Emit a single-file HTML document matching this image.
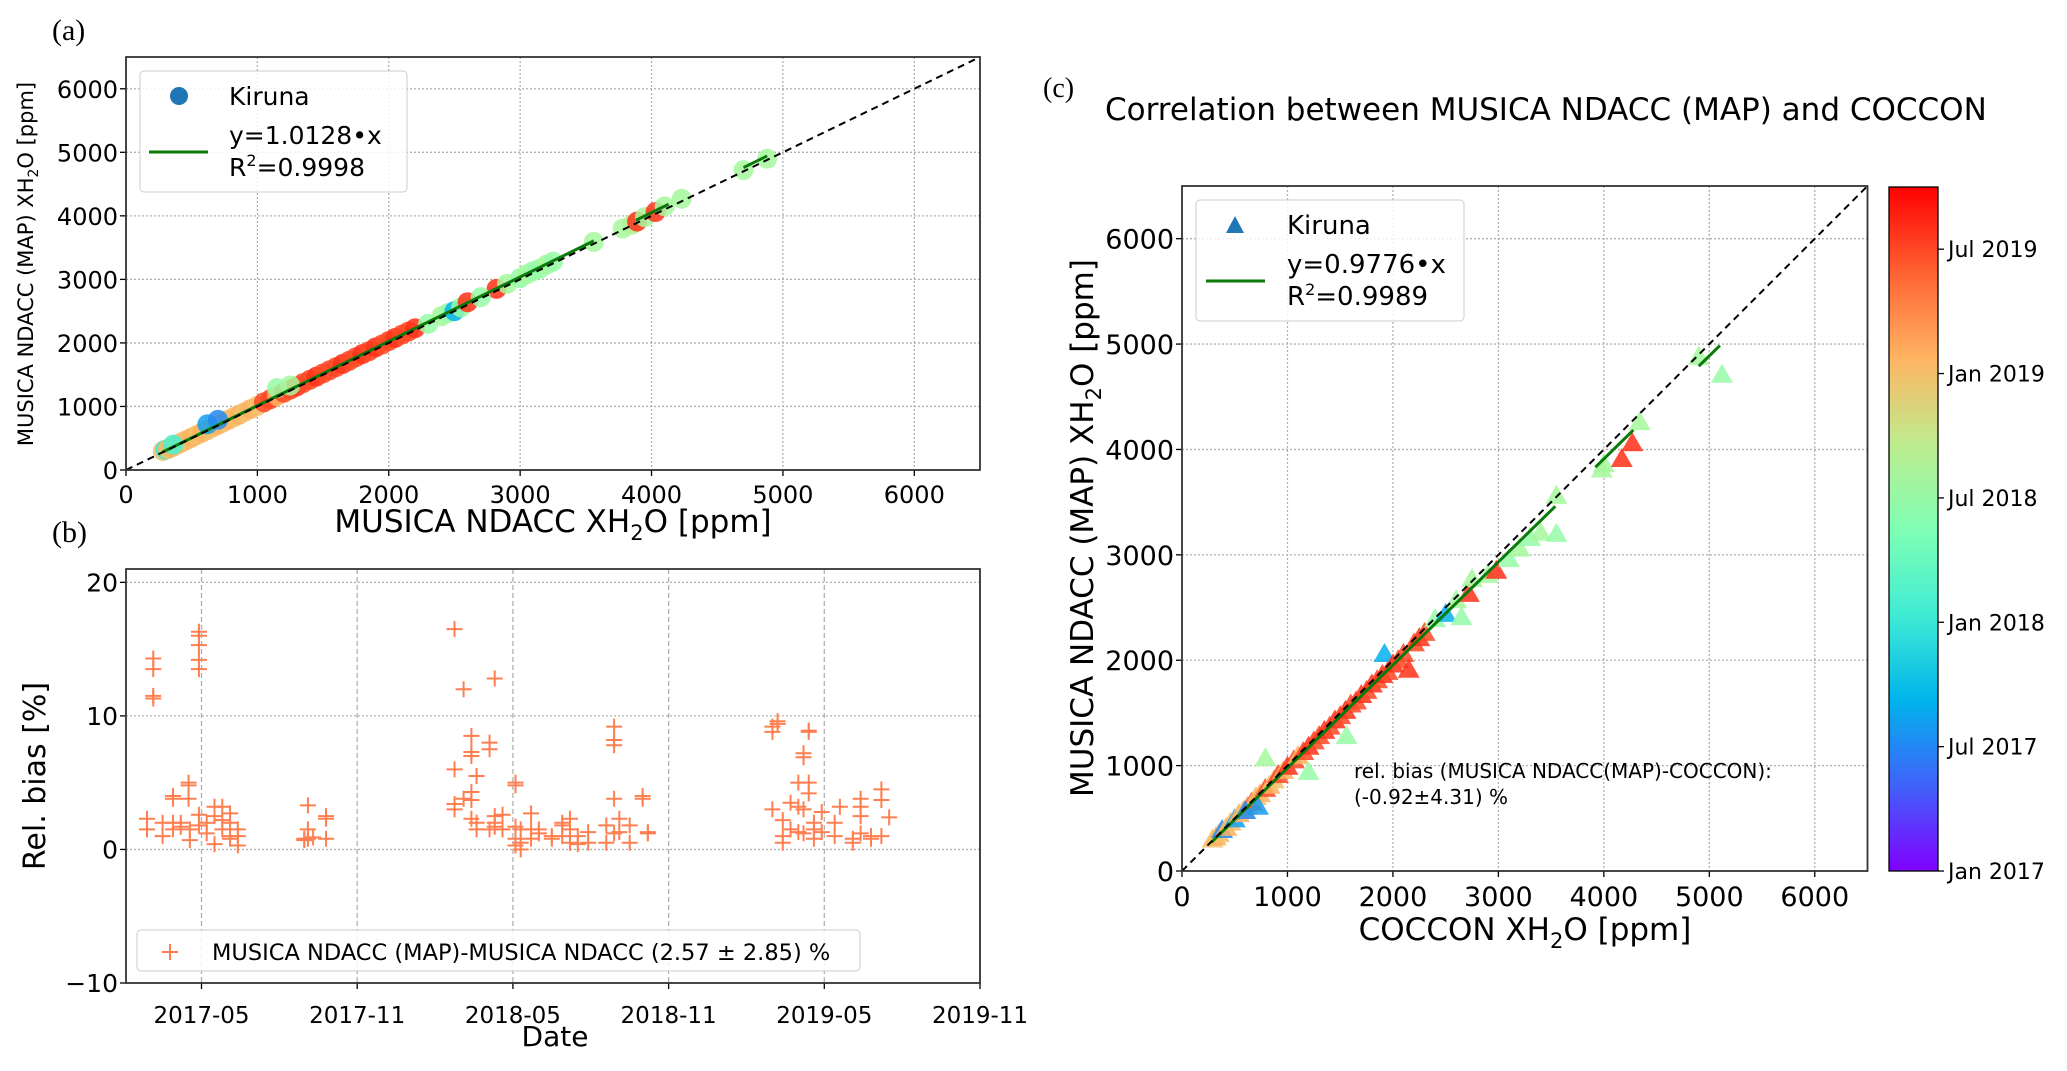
<!DOCTYPE html>
<html><head><meta charset="utf-8"><style>
body{margin:0;background:#fff;}
svg text{font-family:"DejaVu Sans","Liberation Sans",sans-serif;fill:#000;}
.serif{font-family:"Liberation Serif",serif;}
</style></head><body>
<svg id="fig" xmlns="http://www.w3.org/2000/svg" width="2067" height="1066" viewBox="0 0 2067 1066">
<defs>
<linearGradient id="rb" x1="0" y1="1" x2="0" y2="0">
<stop offset="0" stop-color="rgb(128,0,255)"/><stop offset="0.125" stop-color="rgb(64,98,250)"/><stop offset="0.25" stop-color="rgb(0,180,235)"/><stop offset="0.375" stop-color="rgb(64,236,212)"/><stop offset="0.5" stop-color="rgb(128,255,180)"/><stop offset="0.625" stop-color="rgb(191,236,142)"/><stop offset="0.75" stop-color="rgb(255,180,98)"/><stop offset="0.875" stop-color="rgb(255,98,50)"/><stop offset="1" stop-color="rgb(255,0,0)"/>
</linearGradient>
</defs>
<g id="layer"></g>
</svg>
<script>
// ---------- data ----------
const aX=[280,300,320,350,380,400,430,460,500,540,580,620,660,700,740,780,820,860,900,950,1000,1050,1100,1150,1200,1250,1300,1350,1400,1450,1500,1550,1600,1650,1700,1750,1800,1850,1900,1950,2000,2050,2100,2150,2200,620,700,360,1150,1250,2300,2400,2450,2500,2550,2600,2820,2700,2900,3000,3050,3100,3150,3200,3250,3560,3780,3850,3890,3950,4030,4100,4230,4700,4880];
const aY=[300,320,330,360,390,410,440,470,510,550,590,630,670,710,750,790,830,870,910,960,1010,1065,1115,1165,1215,1265,1315,1370,1420,1470,1520,1570,1620,1670,1720,1775,1825,1870,1930,1975,2030,2080,2130,2180,2230,720,790,400,1290,1330,2300,2420,2470,2500,2560,2640,2850,2720,2930,3020,3080,3130,3170,3230,3280,3590,3800,3860,3910,3980,4060,4150,4270,4720,4900];
const aM=[24,12,24,25,24,24,25,24,25,24,25,24,24,25,24,25,24,25,24,25,24,30,30,25,30,30,31,30,30,31,30,30,30,31,30,30,31,30,31,30,30,31,30,30,31,7,6,13,18,19,18,19,18,8,18,31,31,18,19,18,19,18,18,19,18,19,19,20,31,19,31,19,19,19,19];
const bT=[2.14,2.14,2.14,2.14,1.9,1.9,2.5,2.5,2.9,2.9,2.9,2.9,3.2,3.2,3.5,3.5,3.5,3.55,3.55,3.9,3.9,3.9,3.9,3.9,3.9,3.9,4.2,4.2,4.5,4.5,4.5,4.8,4.8,4.8,5.1,5.1,5.1,5.1,5.4,5.4,5.4,7.96,7.96,8.1,8.1,8.1,8.3,8.8,8.8,8.8,13.75,13.75,13.75,13.75,14.1,14.1,14.4,14.4,14.4,14.4,14.4,14.4,14.6,14.6,14.6,15.1,15.1,15.1,15.3,15.3,15.3,15.3,15.6,15.6,16.1,16.1,16.1,16.1,16.1,16.3,16.3,16.3,16.7,16.7,16.7,17.0,17.0,17.5,17.5,17.9,17.9,17.9,18.2,18.2,18.2,18.5,18.5,18.9,18.9,19.6,19.6,19.9,19.9,19.9,19.9,19.9,20.1,20.1,20.5,20.5,21.0,21.0,21.2,21.2,26.0,26.0,26.0,26.2,26.2,26.4,26.4,26.4,26.7,26.7,27.0,27.0,27.0,27.2,27.2,27.2,27.2,27.4,27.4,27.4,27.4,27.6,27.6,27.6,27.9,27.9,28.4,28.4,28.6,29.1,29.1,29.4,29.4,29.4,29.4,29.8,29.8,30.2,30.2,30.2,30.5];
const bV=[11.3,11.5,13.5,14.3,2.3,1.5,1.0,2.0,4.0,3.8,2.0,1.5,2.0,1.7,5.0,4.8,3.8,0.7,1.5,16.3,16.0,15.3,14.2,13.5,2.6,1.8,1.2,2.0,3.2,2.5,0.4,2.2,3.2,1.5,2.7,2.0,1.0,0.8,1.5,1.0,0.3,0.7,0.8,3.3,1.5,0.8,0.9,2.5,2.3,0.8,16.5,6.0,3.4,3.0,12.0,3.8,8.5,7.3,7.0,4.3,3.7,2.3,5.5,2.0,1.5,8.0,7.5,1.5,12.8,2.5,2.0,1.7,2.6,1.5,5.0,4.8,1.7,0.8,0.3,1.5,0.5,0.0,2.7,1.5,0.8,1.5,1.2,1.0,0.8,1.8,2.0,1.0,2.3,1.5,0.5,1.0,0.4,1.3,0.5,1.8,0.5,9.2,8.2,7.8,3.8,1.2,2.3,1.3,0.5,1.8,3.8,4.0,1.3,1.2,8.8,9.2,3.0,9.6,9.4,2.2,1.0,0.5,3.5,1.5,5.0,3.2,1.3,7.2,6.9,3.0,1.2,8.8,8.9,5.0,4.2,1.5,2.0,0.8,2.8,1.3,2.0,1.0,3.2,0.5,0.8,3.8,3.2,2.5,1.2,1.0,0.8,4.5,3.7,1.0,2.4];
const cX=[290,320,350,380,420,460,500,540,580,620,660,700,740,790,830,870,910,960,1000,1060,1100,1150,1200,1250,1300,1350,1400,1450,1500,1550,1600,1650,1700,1750,1800,1850,1900,1920,1950,2000,2050,2100,2150,2200,2250,2300,600,720,1200,790,1560,2400,2500,2600,2650,2720,2750,2900,2980,3100,3200,3300,3400,3550,3550,3980,4000,4170,4270,4340,4900,5120];
const cY=[290,310,340,380,400,450,480,530,560,600,640,690,720,770,800,850,900,940,980,1040,1080,1120,1170,1220,1270,1320,1360,1420,1460,1510,1570,1600,1660,1700,1760,1800,1850,2050,1880,1950,1990,2050,1900,2150,2200,2250,560,600,930,1060,1270,2380,2430,2560,2400,2620,2760,2800,2840,2950,3050,3150,3200,3550,3190,3800,3850,3900,4050,4250,4870,4700];
const cM=[24,25,24,6,25,24,7,25,24,25,30,24,25,30,25,24,30,25,31,30,25,30,31,30,30,31,30,31,30,31,30,30,31,30,31,30,31,8,30,31,30,30,31,30,31,30,6,7,18,19,18,18,8,19,18,31,19,19,31,18,19,18,19,19,18,19,19,31,31,19,19,18];
const cbTicks=[0,6,12,18,24,30];
const cbLabels=["Jan 2017","Jul 2017","Jan 2018","Jul 2018","Jan 2019","Jul 2019"];
const xyTicks=[0,1000,2000,3000,4000,5000,6000];
const bYTicks=[-10,0,10,20];
const bXTicks=[4,10,16,22,28,34];
const bXLabels=["2017-05","2017-11","2018-05","2018-11","2019-05","2019-11"];

// ---------- helpers ----------
const NS="http://www.w3.org/2000/svg";
const L=document.getElementById('layer');
function el(tag,at,parent){const e=document.createElementNS(NS,tag);for(const k in at)e.setAttribute(k,at[k]);(parent||L).appendChild(e);return e;}
function txt(x,y,s,size,anchor,extra){const t=el('text',Object.assign({x:x,y:y,'font-size':size,'text-anchor':anchor||'start'},extra||{}));t.textContent=s;return t;}
function rainbow(m){let v=Math.max(0,Math.min(1,m/33));const r=Math.min(1,Math.abs(2*v-0.5)),g=Math.sin(Math.PI*v),b=Math.cos(Math.PI*v/2);return `rgb(${Math.round(r*255)},${Math.round(g*255)},${Math.round(b*255)})`;}
const grid={stroke:'#b0b0b0','stroke-width':1.3,'stroke-dasharray':'2,2'};

// ---------- panel a ----------
const A={l:126,r:980,t:57,b:470,max:6500};
const ax=v=>A.l+(A.r-A.l)*v/A.max, ay=v=>A.b-(A.b-A.t)*v/A.max;
let g;
xyTicks.forEach(v=>{
 g=el('line',Object.assign({x1:ax(v),x2:ax(v),y1:A.t,y2:A.b},grid));
 g=el('line',Object.assign({x1:A.l,x2:A.r,y1:ay(v),y2:ay(v)},grid));
 g=txt(ax(v),A.b+33,String(v),24,'middle');
 g=txt(A.l-8,ay(v)+9,String(v),24,'end');
 el('line',{x1:ax(v),x2:ax(v),y1:A.b,y2:A.b+6,stroke:'#000','stroke-width':1.3});
 el('line',{x1:A.l-6,x2:A.l,y1:ay(v),y2:ay(v),stroke:'#000','stroke-width':1.3});
});
aX.forEach((x,i)=>{g=el('ellipse',{cx:ax(x),cy:ay(aY[i]),rx:10,ry:10,fill:rainbow(aM[i]),'fill-opacity':0.85});});
[[280,3560],[3880,4130],[4700,4880]].forEach(s=>{g=el('line',{x1:ax(s[0]),y1:ay(s[0]*1.0128),x2:ax(s[1]),y2:ay(s[1]*1.0128),stroke:'#0a7a0a','stroke-width':3});});
g=el('line',{x1:ax(0),y1:ay(0),x2:ax(6500),y2:ay(6500),stroke:'#000','stroke-width':2,'stroke-dasharray':'7,5'});
g=el('rect',{x:A.l,y:A.t,width:A.r-A.l,height:A.b-A.t,fill:'none',stroke:'#333','stroke-width':1.8});
g=el('rect',{x:140,y:71,width:267,height:121,rx:4,fill:'#fff','fill-opacity':0.85,stroke:'#ccc'});
el('ellipse',{cx:179,cy:96,rx:9,ry:9,fill:'#1f77b4'});
el('line',{x1:149,x2:208,y1:152,y2:152,stroke:'#0a7a0a','stroke-width':3});
txt(229,105,'Kiruna',25);txt(229,144,'y=1.0128•x',25);
g=txt(229,176,'R',25);const s1=el('tspan',{dy:-10,'font-size':16},g);s1.textContent='2';const s2=el('tspan',{dy:10},g);s2.textContent='=0.9998';
g=txt(553,532,'',31,'middle');
g.innerHTML='MUSICA NDACC XH<tspan font-size="21" dy="8">2</tspan><tspan dy="-8">O [ppm]</tspan>';
g=txt(0,0,'',21,'middle',{transform:'translate(33,264) rotate(-90)'});
g.innerHTML='MUSICA NDACC (MAP) XH<tspan font-size="14" dy="5">2</tspan><tspan dy="-5">O [ppm]</tspan>';
g=txt(52,40,'(a)',30,'start',{class:'serif'});

// ---------- panel b ----------
const B={l:126,r:980,t:569,b:983,x0:1.09,x1:34,y0:-10,y1:21};
const bx=v=>B.l+(B.r-B.l)*(v-B.x0)/(B.x1-B.x0), by=v=>B.b-(B.b-B.t)*(v-B.y0)/(B.y1-B.y0);
bXTicks.forEach((v,i)=>{
 g=el('line',Object.assign({x1:bx(v),x2:bx(v),y1:B.t,y2:B.b},grid,{'stroke-dasharray':'5,3'}));
 el('line',{x1:bx(v),x2:bx(v),y1:B.b,y2:B.b+6,stroke:'#000','stroke-width':1.3});
 g=txt(bx(v),B.b+40,bXLabels[i],23,'middle');
});
bYTicks.forEach(v=>{
 g=el('line',Object.assign({x1:B.l,x2:B.r,y1:by(v),y2:by(v)},grid));
 el('line',{x1:B.l-6,x2:B.l,y1:by(v),y2:by(v),stroke:'#000','stroke-width':1.3});
 g=txt(B.l-8,by(v)+9,v<0?'\u2212'+(-v):String(v),25,'end');
});
bT.forEach((t,i)=>{const x=bx(t),y=by(bV[i]);g=el('path',{d:`M${x-8} ${y}H${x+8}M${x} ${y-8}V${y+8}`,stroke:'#ff7f50','stroke-width':2});});
g=el('rect',{x:B.l,y:B.t,width:B.r-B.l,height:B.b-B.t,fill:'none',stroke:'#333','stroke-width':1.8});
g=el('rect',{x:137,y:930,width:723,height:41,rx:4,fill:'#fff','fill-opacity':0.85,stroke:'#ccc'});
el('path',{d:'M162 952H178M170 944V960',stroke:'#ff7f50','stroke-width':2});
txt(212,960,'MUSICA NDACC (MAP)-MUSICA NDACC (2.57 ± 2.85) %',22.5);
g=txt(555,1046,'Date',28,'middle');
g=txt(0,0,'Rel. bias [%]',30,'middle',{transform:'translate(45,776) rotate(-90)'});
g=txt(52,542,'(b)',30,'start',{class:'serif'});

// ---------- panel c ----------
const C={l:1182,r:1867.5,t:186,b:871,max:6500};
const cx=v=>C.l+(C.r-C.l)*v/C.max, cy=v=>C.b-(C.b-C.t)*v/C.max;
xyTicks.forEach(v=>{
 g=el('line',Object.assign({x1:cx(v),x2:cx(v),y1:C.t,y2:C.b},grid));
 g=el('line',Object.assign({x1:C.l,x2:C.r,y1:cy(v),y2:cy(v)},grid));
 el('line',{x1:cx(v),x2:cx(v),y1:C.b,y2:C.b+6,stroke:'#000','stroke-width':1.3});
 el('line',{x1:C.l-6,x2:C.l,y1:cy(v),y2:cy(v),stroke:'#000','stroke-width':1.3});
 g=txt(cx(v),C.b+35,String(v),27,'middle');
 g=txt(C.l-8,cy(v)+10,String(v),27,'end');
});
cX.forEach((x,i)=>{const X=cx(x),Y=cy(cY[i]);g=el('path',{d:`M${X} ${Y-12}L${X+11} ${Y+7}L${X-11} ${Y+7}Z`,fill:rainbow(cM[i]),'fill-opacity':0.85});});
[[280,3540],[3920,4280],[4900,5100]].forEach(s=>{g=el('line',{x1:cx(s[0]),y1:cy(s[0]*0.9776),x2:cx(s[1]),y2:cy(s[1]*0.9776),stroke:'#0a7a0a','stroke-width':3});});
g=el('line',{x1:cx(0),y1:cy(0),x2:cx(6500),y2:cy(6500),stroke:'#000','stroke-width':2,'stroke-dasharray':'7,5'});
g=el('rect',{x:C.l,y:C.t,width:C.r-C.l,height:C.b-C.t,fill:'none',stroke:'#333','stroke-width':1.8});
g=el('rect',{x:1196,y:200,width:268,height:121,rx:4,fill:'#fff','fill-opacity':0.85,stroke:'#ccc'});
el('path',{d:'M1235 216L1244 233L1226 233Z',fill:'#1f77b4'});
el('line',{x1:1206,x2:1265,y1:281,y2:281,stroke:'#0a7a0a','stroke-width':3});
txt(1287,234,'Kiruna',26);txt(1287,273,'y=0.9776•x',26);
g=txt(1287,305,'R',26);const s3=el('tspan',{dy:-10,'font-size':16},g);s3.textContent='2';const s4=el('tspan',{dy:10},g);s4.textContent='=0.9989';
g=txt(1354,778,'rel. bias (MUSICA NDACC(MAP)-COCCON):',20);
txt(1354,804,'(-0.92±4.31) %',20);
g=txt(1525,940,'',31,'middle');
g.innerHTML='COCCON XH<tspan font-size="21" dy="8">2</tspan><tspan dy="-8">O [ppm]</tspan>';
g=txt(0,0,'',31,'middle',{transform:'translate(1093,528) rotate(-90)'});
g.innerHTML='MUSICA NDACC (MAP) XH<tspan font-size="21" dy="8">2</tspan><tspan dy="-8">O [ppm]</tspan>';
g=txt(1105,120,'Correlation between MUSICA NDACC (MAP) and COCCON',31);
g=txt(1043,97,'(c)',28,'start',{class:'serif'});

const CB={l:1889,r:1938,t:187,b:871,m0:0,m1:33};
const cbY=m=>CB.b-(CB.b-CB.t)*(m-CB.m0)/(CB.m1-CB.m0);
g=el('rect',{x:CB.l,y:CB.t,width:CB.r-CB.l,height:CB.b-CB.t,fill:'url(#rb)',stroke:'#000','stroke-width':1.3});
cbTicks.forEach((m,i)=>{el('line',{x1:CB.r,x2:CB.r+6,y1:cbY(m),y2:cbY(m),stroke:'#000','stroke-width':1.3});
 g=txt(CB.r+10,cbY(m)+8,cbLabels[i],22);});
</script>
</body></html>
